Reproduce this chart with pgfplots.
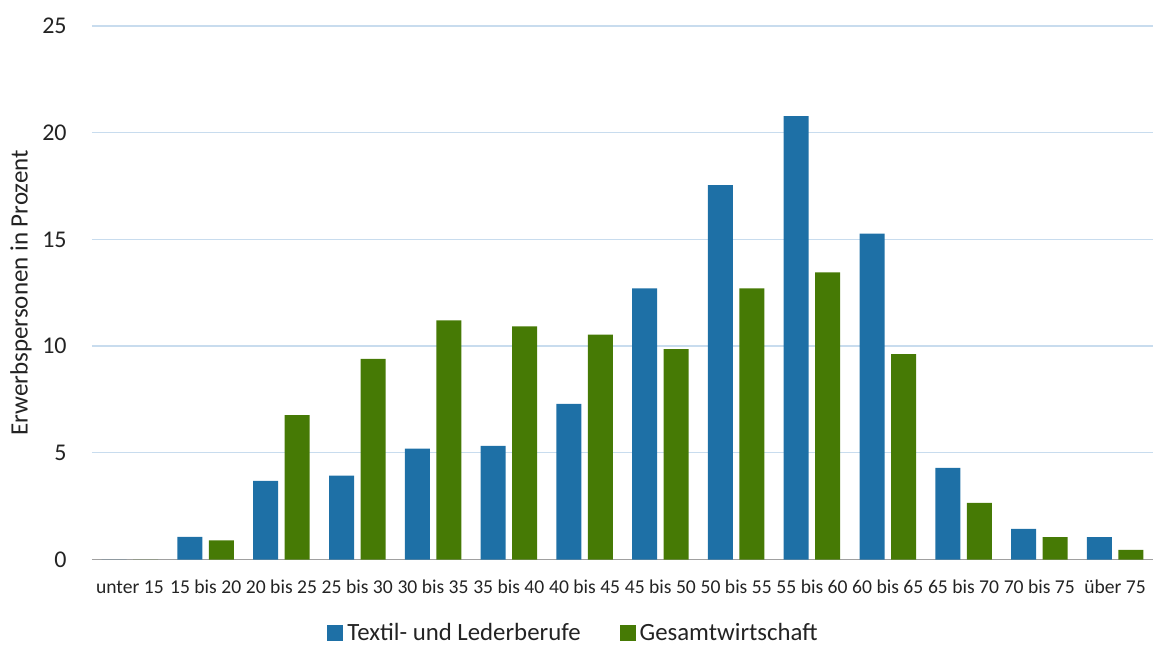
\documentclass[border=0pt]{standalone}
\usepackage{pgfplots}
\pgfplotsset{compat=1.18}
\usepackage{fontspec}
\setmainfont{Carlito}

\definecolor{tblue}{RGB}{30,112,166}
\definecolor{ggreen}{RGB}{70,122,5}
\definecolor{gridblue}{RGB}{200,220,238}
\definecolor{axisgray}{RGB}{160,160,160}
\definecolor{txt}{RGB}{35,35,35}

\begin{document}
\begin{tikzpicture}
\begin{axis}[
  scale only axis,
  width=530.5pt, height=266.75pt,
  ybar=3.25pt, bar width=12.5pt,
  xmin=-0.5, xmax=13.5,
  ymin=0, ymax=25,
  xtick={0,...,13},
  xticklabels={unter 15,15 bis 20,20 bis 25,25 bis 30,30 bis 35,35 bis 40,40 bis 45,45 bis 50,50 bis 55,55 bis 60,60 bis 65,65 bis 70,70 bis 75,über 75},
  ytick={0,5,...,25},
  ymajorgrids,
  grid style={gridblue, line width=0.6pt},
  axis x line*=bottom, axis y line*=left,
  x axis line style={axisgray, line width=0.8pt, -},
  y axis line style={draw=none},
  major tick length=0pt,
  /pgf/number format/assume math mode=true,
  xticklabel style={font=\fontsize{9.8}{11}\selectfont, text=txt, anchor=base, inner sep=0pt, yshift=-16.75pt},
  yticklabel style={font=\fontsize{12}{14}\selectfont, text=txt, anchor=east, inner sep=0pt, xshift=-12.5pt},
  ylabel={Erwerbspersonen in Prozent},
  ylabel style={font=\fontsize{12.5}{14}\selectfont, text=txt, at={(axis description cs:-0.0669,0.5)}, anchor=center},
  legend columns=2,
  legend cell align=left,
  legend style={draw=none, fill=none, font=\fontsize{12.4}{14}\selectfont, text=txt,
    at={(rel axis cs:0.4548,-0.1376)}, anchor=center,
    /tikz/every even column/.append style={column sep=17.5pt}},
  legend image code/.code={\fill[#1] (0pt,-4pt) rectangle (8pt,4pt);},
]
\addplot[fill=tblue, draw=none] coordinates {
  (0,0) (1,1.06) (2,3.69) (3,3.93) (4,5.19) (5,5.33) (6,7.29)
  (7,12.7) (8,17.54) (9,20.78) (10,15.27) (11,4.29) (12,1.43) (13,1.05)
};
\addlegendentry{Textil- und Lederberufe}
\addplot[fill=ggreen, draw=none] coordinates {
  (0,0) (1,0.9) (2,6.77) (3,9.4) (4,11.2) (5,10.92) (6,10.54)
  (7,9.86) (8,12.7) (9,13.46) (10,9.62) (11,2.65) (12,1.05) (13,0.45)
};
\addlegendentry{Gesamtwirtschaft}
\coordinate (bl) at (rel axis cs:0,0);
\coordinate (tr) at (rel axis cs:1,1);
\end{axis}
\pgfresetboundingbox
\path ([xshift=-46pt,yshift=-43.25pt]bl) rectangle ([yshift=13pt]tr);
\end{tikzpicture}
\end{document}
